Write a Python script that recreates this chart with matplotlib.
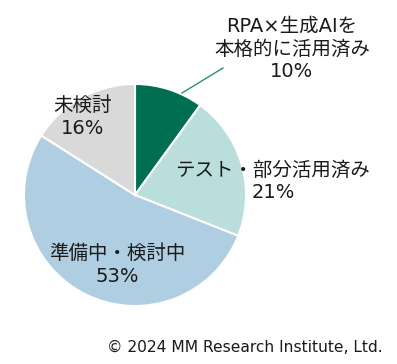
import matplotlib
matplotlib.use("Agg")
import matplotlib.pyplot as plt

# latin in a Verdana-like face, japanese falls back to Noto CJK
plt.rcParams['font.family'] = ['DejaVu Sans', 'Noto Sans CJK JP']

labels = ['RPA×生成AIを\n本格的に活用済み', 'テスト・部分活用済み', '準備中・検討中', '未検討']
values = [10, 21, 53, 16]
colors = ['#006E50', '#B9DEDC', '#AFCEE1', '#D9D9D9']
credit = '© 2024 MM Research Institute, Ltd.'

W, H = 397, 364
fig = plt.figure(figsize=(W / 100, H / 100), dpi=100)
ax = fig.add_axes([0, 0, 1, 1])

cx, cy, r = 135, H - 195, 111
ax.pie(values, colors=colors, startangle=90, counterclock=False,
       center=(cx, cy), radius=r, frame=True,
       wedgeprops=dict(edgecolor='white', linewidth=1.5))
ax.set_xlim(0, W)
ax.set_ylim(0, H)
ax.axis('off')

# label positions (pixels from top)
pos = [(292, 49), (273, 181), (117, 265), (83, 117)]
for lab, v, (x, y) in zip(labels, values, pos):
    ax.text(x, H - y, f'{lab}\n{v}%', ha='center', va='center',
            fontsize=14, color='#1a1a1a', linespacing=1.22)

# leader line for the small slice
ax.plot([182, 223], [H - 93, H - 68], color='#2E8B6E', lw=1)

ax.text(383, H - 347, credit, ha='right', va='center', fontsize=11.2, color='#1a1a1a')

fig.savefig('out.png', dpi=100)
